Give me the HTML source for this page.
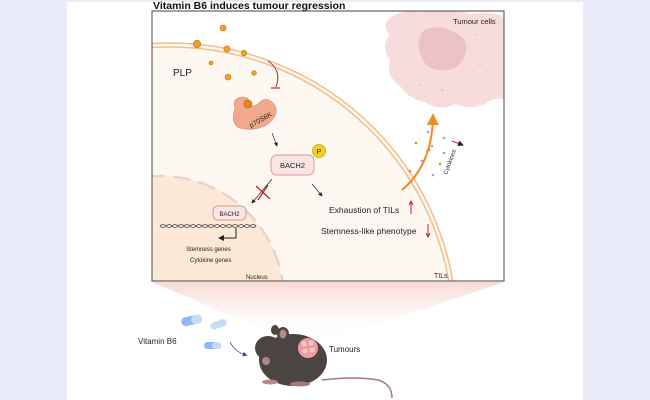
<!DOCTYPE html>
<html style="margin:0;overflow:hidden;height:400px"><head><style>
body{margin:0;width:650px;height:400px;background:#e9ebf8;overflow:hidden;font-family:"Liberation Sans",Arial,sans-serif;position:relative}
svg{display:block}
</style></head><body>
<svg width="650" height="400" viewBox="0 0 650 400" xmlns="http://www.w3.org/2000/svg" style="position:absolute;left:0;top:0;font-family:'Liberation Sans',Arial,sans-serif">
<defs>
<linearGradient id="cone" x1="0" y1="0" x2="0" y2="1">
<stop offset="0" stop-color="#f7d9d3"/><stop offset="1" stop-color="#fff" stop-opacity="0"/>
</linearGradient>
<clipPath id="box"><rect x="152" y="11" width="352" height="270"/></clipPath>
<marker id="ah" markerWidth="6" markerHeight="6" refX="5" refY="3" orient="auto"><path d="M0,0 L6,3 L0,6 z" fill="#222"/></marker>
<marker id="ao" markerWidth="6" markerHeight="6" refX="4" refY="3" orient="auto"><path d="M0,0 L6,3 L0,6 z" fill="#f08a2a"/></marker>
<marker id="ab" markerWidth="6" markerHeight="6" refX="4" refY="3" orient="auto"><path d="M0,0 L6,3 L0,6 z" fill="#2a4aa0"/></marker>
</defs>
<rect x="67" y="2" width="516" height="398" fill="#fff"/>
<polygon points="152,282 504,282 325,342 292,342" fill="url(#cone)"/>
<text x="153" y="9" font-size="10.5" font-weight="bold" fill="#111">Vitamin B6 induces tumour regression</text>
<rect x="152" y="11" width="352" height="270" fill="#fff"/>
<g clip-path="url(#box)">
<path d="M388,20 Q400,8 420,12 Q450,6 470,14 Q500,10 505,20 L505,100 Q495,96 485,104 Q470,110 455,104 Q440,112 425,102 Q410,100 400,86 Q385,75 390,60 Q380,45 390,35 Q382,27 388,20z" fill="#f7dcdc"/>
<path d="M424,30 Q440,24 455,32 Q470,40 465,55 Q460,70 445,70 Q428,72 422,58 Q414,42 424,30z" fill="#ebc3c5"/>
<g fill="#efbcbd"><circle cx="412" cy="40" r="1"/><circle cx="408" cy="70" r="1"/><circle cx="442" cy="90" r="1.2"/><circle cx="480" cy="65" r="1"/><circle cx="475" cy="35" r="1"/><circle cx="420" cy="85" r="1"/><circle cx="490" cy="80" r="1"/></g>
<circle cx="170" cy="330" r="287" fill="#fdf8f2"/>
<circle cx="170" cy="330" r="287" fill="none" stroke="#f4bd8a" stroke-width="1.5"/>
<circle cx="170" cy="330" r="283" fill="none" stroke="#f4bd8a" stroke-width="1.5"/>
<circle cx="160" cy="300" r="124" fill="#fbe9d5"/>
<circle cx="160" cy="300" r="124" fill="none" stroke="#e9d2cc" stroke-width="2.5" stroke-dasharray="16,10" stroke-linecap="round"/>
</g>
<rect x="152" y="11" width="352" height="270" fill="none" stroke="#444" stroke-width="1"/>
<text x="453" y="24" font-size="7.5" fill="#222">Tumour cells</text>
<g fill="#f0a030" stroke="#c87810" stroke-width="0.6">
<circle cx="223" cy="28" r="3"/><circle cx="197" cy="44" r="3.8"/><circle cx="227" cy="49" r="3.2"/><circle cx="244" cy="53" r="2.8"/><circle cx="211" cy="63" r="2"/><circle cx="228" cy="77" r="3"/><circle cx="254" cy="73" r="2.3"/>
</g>
<text x="173" y="76" font-size="10" fill="#222">PLP</text>
<path d="M268,61 Q282,70 276,87" fill="none" stroke="#a33" stroke-width="1"/>
<line x1="271" y1="88" x2="280" y2="88" stroke="#a33" stroke-width="1.2"/>
<path d="M235,108 Q232,98 242,97 Q250,97 250,104 Q252,108 258,104 Q265,96 272,102 Q282,112 268,124 Q255,132 240,128 Q230,124 235,108z" fill="#f1a98c" stroke="#d98a6c" stroke-width="0.6"/>
<circle cx="248" cy="104" r="4" fill="#e08a20" stroke="#b06010" stroke-width="0.6"/>
<text x="0" y="0" font-size="7" fill="#222" transform="translate(251,128) rotate(-30)">p70S6K</text>
<line x1="272" y1="133" x2="277" y2="146" stroke="#222" stroke-width="0.7" marker-end="url(#ah)"/>
<rect x="271" y="155" width="43" height="20" rx="6" fill="#fbe4e4" stroke="#d6999b" stroke-width="1"/>
<text x="292.5" y="168" font-size="7.5" text-anchor="middle" fill="#222">BACH2</text>
<circle cx="319" cy="151" r="6.5" fill="#f5d21c" stroke="#c8a000" stroke-width="0.8"/>
<text x="319" y="154" font-size="7" text-anchor="middle" fill="#222">P</text>
<line x1="312" y1="184" x2="322" y2="196" stroke="#222" stroke-width="0.7" marker-end="url(#ah)"/>
<line x1="272" y1="179" x2="252" y2="203" stroke="#222" stroke-width="0.7" marker-end="url(#ah)"/>
<path d="M256,186 L270,199 M258,200 L268,185" stroke="#b22" stroke-width="1.3"/>
<text x="329" y="213" font-size="8.5" fill="#222">Exhaustion of TILs</text>
<path d="M411,214 L411,202 M409,205 L411,201 L413,205" stroke="#c22" stroke-width="1" fill="none"/>
<text x="321" y="234" font-size="8.5" fill="#222">Stemness-like phenotype</text>
<path d="M428,224 L428,236 M426,233 L428,237 L430,233" stroke="#c22" stroke-width="1" fill="none"/>
<rect x="213" y="206" width="33" height="14" rx="5" fill="#fbe4e4" stroke="#d6999b" stroke-width="1"/>
<text x="229.5" y="216" font-size="6" text-anchor="middle" fill="#222">BACH2</text>
<path d="M160,226 q3,-3 6,0 t6,0 t6,0 t6,0 t6,0 t6,0 t6,0 t6,0 t6,0 t6,0 t6,0 t6,0 t6,0 t6,0 t6,0 t6,0" fill="none" stroke="#444" stroke-width="0.8"/>
<path d="M160,226 q3,3 6,0 t6,0 t6,0 t6,0 t6,0 t6,0 t6,0 t6,0 t6,0 t6,0 t6,0 t6,0 t6,0 t6,0 t6,0 t6,0" fill="none" stroke="#444" stroke-width="0.8"/>
<path d="M236,228 L236,238 L219,238" fill="none" stroke="#222" stroke-width="1" marker-end="url(#ah)"/>
<text x="186" y="251" font-size="6" fill="#222">Stemness genes</text>
<text x="190" y="262" font-size="6" fill="#222">Cytokine genes</text>
<text x="246" y="279" font-size="6" fill="#222">Nucleus</text>
<text x="434" y="278" font-size="7" fill="#222">TILs</text>
<path d="M402,190 Q432,165 433,117" fill="none" stroke="#f08a2a" stroke-width="2" marker-end="url(#ao)"/>
<g fill="#a89ce0"><circle cx="428" cy="132" r="1.3"/><circle cx="444" cy="138" r="1.3"/><circle cx="432" cy="146" r="1.3"/><circle cx="444" cy="153" r="1.3"/><circle cx="422" cy="161" r="1.3"/><circle cx="433" cy="175" r="1.3"/></g>
<g fill="#e09020"><circle cx="416" cy="143" r="1.3"/><circle cx="429" cy="150" r="1.3"/><circle cx="440" cy="164" r="1.3"/><circle cx="410" cy="171" r="1.3"/></g>
<text x="0" y="0" font-size="6" fill="#222" transform="translate(447,175) rotate(-70)">Cytokines</text>
<path d="M452,141 L463,145" stroke="#c22" stroke-width="1" marker-end="url(#ah)"/>
<text x="138" y="344" font-size="8" fill="#222">Vitamin B6</text>
<g>
<rect x="181" y="316" width="21" height="9" rx="4.5" fill="#8cbaf0" transform="rotate(-12 191 320)"/>
<rect x="191" y="316" width="11" height="9" rx="4.5" fill="#c4dcf8" transform="rotate(-12 191 320)"/>
<rect x="210" y="321" width="17" height="7" rx="3.5" fill="#c4dcf8" transform="rotate(-20 218 324)"/>
<rect x="204" y="342" width="17" height="7" rx="3.5" fill="#8cbaf0"/>
<rect x="212" y="342" width="9" height="7" rx="3.5" fill="#c4dcf8"/>
</g>
<path d="M230,342 Q235,352 246,355" fill="none" stroke="#2a4aa0" stroke-width="0.8" marker-end="url(#ab)"/>
<path d="M322,380 Q355,376 378,380 Q392,384 392,398" fill="none" stroke="#a77" stroke-width="1.5"/>
<ellipse cx="293" cy="360" rx="34" ry="26" fill="#4a4442"/>
<ellipse cx="268" cy="348" rx="13" ry="12" fill="#4a4442"/>
<ellipse cx="283" cy="334" rx="6" ry="7" fill="#4a4442"/>
<ellipse cx="283" cy="334" rx="3.5" ry="4.5" fill="#b88"/>
<ellipse cx="275" cy="330" rx="4" ry="5" fill="#4a4442"/>
<ellipse cx="270" cy="382" rx="8" ry="2.5" fill="#b88"/>
<ellipse cx="300" cy="384" rx="10" ry="2.5" fill="#a77"/>
<circle cx="266" cy="361" r="4" fill="#a88"/>
<circle cx="308" cy="348" r="10" fill="#ef9ea2"/>
<g fill="#f6c2c4" stroke="#d97a80" stroke-width="0.5"><circle cx="304" cy="344" r="3.3"/><circle cx="311" cy="343" r="3.3"/><circle cx="305" cy="351" r="3.3"/><circle cx="312" cy="350" r="3.3"/></g>
<text x="329" y="352" font-size="8" fill="#222">Tumours</text>
</svg>
</body></html>
